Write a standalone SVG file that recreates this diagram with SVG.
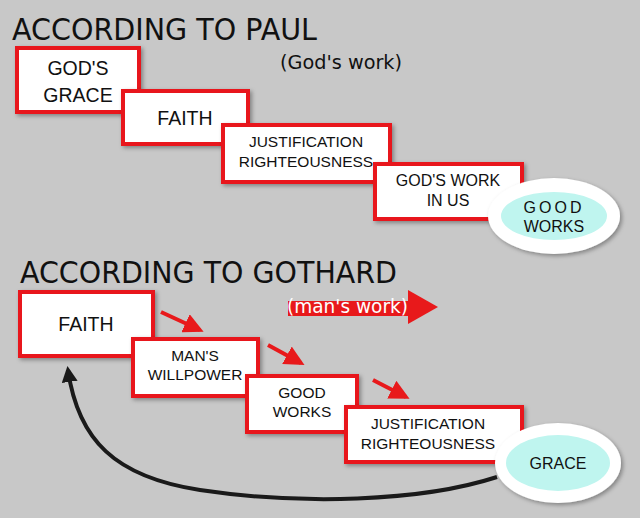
<svg xmlns="http://www.w3.org/2000/svg" width="640" height="518" viewBox="0 0 640 518">
<defs>
<filter id="sh" x="-10%" y="-10%" width="130%" height="140%"><feDropShadow dx="2" dy="2" stdDeviation="2" flood-color="#000" flood-opacity="0.35"/></filter>
<marker id="ra" markerWidth="5" markerHeight="5" refX="4" refY="2.5" orient="auto" markerUnits="strokeWidth"><path d="M0,0 L5,2.5 L0,5 z" fill="#e8191b"/></marker>
<marker id="ba" markerWidth="4" markerHeight="4" refX="3" refY="2" orient="auto" markerUnits="strokeWidth"><path d="M0,0 L4,2 L0,4 z" fill="#1a1a1a"/></marker>
<style>
.box{fill:#fff;stroke:#e8191b;stroke-width:4;filter:url(#sh)}
.t{font-family:"Liberation Sans",Arial,sans-serif;fill:#111;text-anchor:middle}
.title{font-family:"DejaVu Sans",sans-serif;font-size:30px;fill:#111}
.oe{fill:#fff;filter:url(#sh)}
.ie{fill:#bff5ef}
.rl{stroke:#e8191b;stroke-width:4;fill:none}
</style>
</defs>
<rect width="640" height="518" fill="#c8c8c8"/>
<text class="title" x="12" y="40" textLength="305" lengthAdjust="spacingAndGlyphs">ACCORDING TO PAUL</text>
<text x="280" y="69" font-family="DejaVu Sans,sans-serif" font-size="19" fill="#111" textLength="122" lengthAdjust="spacingAndGlyphs">(God's work)</text>
<text class="title" x="20" y="283" textLength="377" lengthAdjust="spacingAndGlyphs">ACCORDING TO GOTHARD</text>

<g id="connectors">
<rect x="288" y="301" width="122" height="15" fill="#e8191b"/>
<path d="M408,290 L438,307 L408,324 z" fill="#e8191b"/>
<line class="rl" x1="161" y1="312" x2="200" y2="330" marker-end="url(#ra)"/>
<line class="rl" x1="268" y1="345" x2="301" y2="363" marker-end="url(#ra)"/>
<line class="rl" x1="373" y1="380" x2="406" y2="397" marker-end="url(#ra)"/>
<path d="M497,477 C420,502 300,505 200,490 C115,477 78,440 68,370" fill="none" stroke="#1a1a1a" stroke-width="4" marker-end="url(#ba)"/>
</g>
<text x="287" y="313" font-family="DejaVu Sans,sans-serif" font-size="19" fill="#fff" textLength="121" lengthAdjust="spacingAndGlyphs">(man's work)</text>

<g id="p1"><rect class="box" x="17" y="48" width="122" height="64"/><text class="t" font-size="19.5" x="78" y="75">GOD'S</text><text class="t" font-size="19.5" x="78" y="102">GRACE</text></g>
<g id="p2"><rect class="box" x="123" y="91" width="125" height="53"/><text class="t" font-size="19.5" x="185" y="125">FAITH</text></g>
<g id="p3"><rect class="box" x="223" y="125" width="167" height="57"/><text class="t" font-size="15.5" x="306" y="147">JUSTIFICATION</text><text class="t" font-size="15.5" x="306" y="167">RIGHTEOUSNESS</text></g>
<g id="p4"><rect class="box" x="375" y="164" width="147" height="55"/><text class="t" font-size="16" x="448" y="186">GOD'S WORK</text><text class="t" font-size="16" x="448" y="206">IN US</text></g>
<g id="p5"><ellipse class="oe" cx="554" cy="216" rx="66" ry="38"/><ellipse class="ie" cx="554" cy="216" rx="53" ry="24"/><text class="t" font-size="16" x="554" y="213" letter-spacing="3">GOOD</text><text class="t" font-size="16" x="554" y="232">WORKS</text></g>

<g id="g1"><rect class="box" x="20" y="292" width="133" height="64"/><text class="t" font-size="19.5" x="86" y="331">FAITH</text></g>
<g id="g2"><rect class="box" x="133" y="339" width="125" height="57"/><text class="t" font-size="15.5" x="195" y="361">MAN'S</text><text class="t" font-size="15.5" x="195" y="380">WILLPOWER</text></g>
<g id="g3"><rect class="box" x="247" y="376" width="110" height="56"/><text class="t" font-size="15.5" x="302" y="398">GOOD</text><text class="t" font-size="15.5" x="302" y="417">WORKS</text></g>
<g id="g4"><rect class="box" x="346" y="407" width="176" height="55"/><text class="t" font-size="15.5" x="428" y="429">JUSTIFICATION</text><text class="t" font-size="15.5" x="428" y="449">RIGHTEOUSNESS</text></g>
<g id="g5"><ellipse class="oe" cx="558" cy="463" rx="63" ry="40"/><ellipse class="ie" cx="558" cy="463" rx="52" ry="28"/><text class="t" font-size="16" x="558" y="469">GRACE</text></g>
</svg>
